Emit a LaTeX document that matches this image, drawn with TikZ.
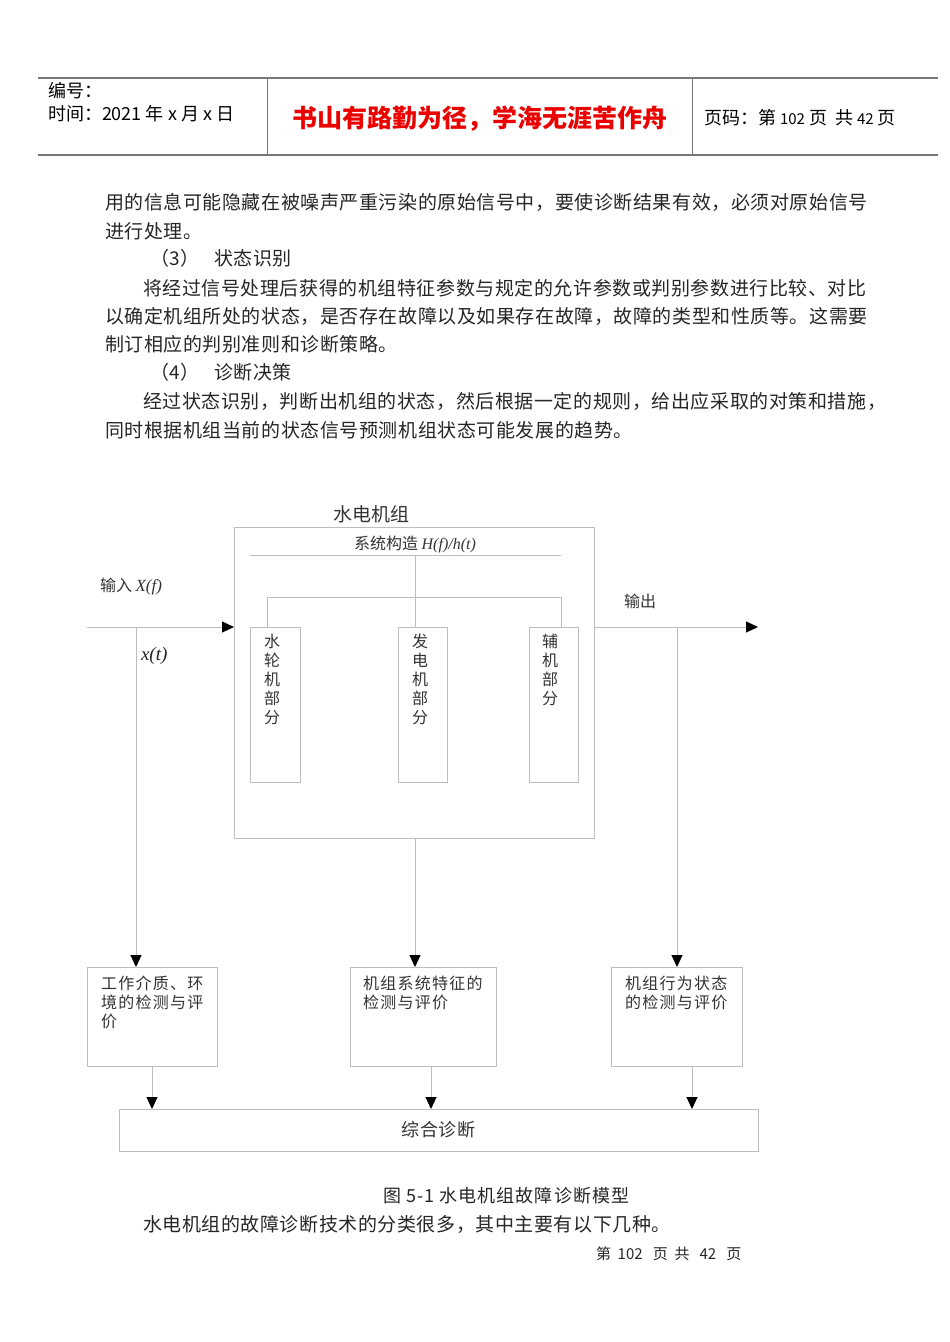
\documentclass[tikz,border=0pt]{standalone}
\usepackage{fontspec}
\setmainfont{Noto Sans CJK SC}
\newfontfamily\lser{Liberation Serif}
\usetikzlibrary{arrows.meta}
\definecolor{lg}{RGB}{190,190,190}
\definecolor{hg}{RGB}{120,120,120}
\definecolor{redt}{RGB}{235,0,0}
\begin{document}
\begin{tikzpicture}[x=1pt,y=-1pt,
 every node/.style={inner sep=0pt, outer sep=0pt},
 ln/.style={draw=lg, line width=1pt},
 box/.style={draw=lg, line width=1pt, minimum width=#1},
 arr/.style={ln, -{Triangle[length=12pt,width=11pt,color=black]}},
 body/.style={anchor=west, font=\fontsize{19}{19}\selectfont\addfontfeature{LetterSpace=3}, text=black!85},
 lbl/.style={anchor=north west, font=\fontsize{16}{19}\selectfont\addfontfeature{LetterSpace=8}, align=left, text=black!80},
 vlbl/.style={anchor=north, font=\fontsize{16}{19}\selectfont, align=center, text=black!80},
 hdr/.style={anchor=west, font=\fontsize{18}{24}\selectfont},
]
\path[use as bounding box, fill=white] (0,0) rectangle (950,1342);

% header
\draw[hg, line width=2pt] (38,78) -- (938,78);
\draw[hg, line width=2pt] (38,155) -- (938,155);
\draw[hg, line width=1pt] (267,78) -- (267,155);
\draw[hg, line width=1pt] (692,78) -- (692,155);
\node[hdr] (h1) at (48,91) {编号：};
\node[hdr] (h2) at (48,114) {时间：2021 年 x 月 x 日};
\node[font=\fontsize{25}{25}\selectfont\bfseries, text=redt] (h3) at (480,119) {书山有路勤为径，学海无涯苦作舟};
\node[hdr] (h4) at (704,118) {页码：第 {\fontsize{15}{15}\selectfont 102} 页\ \ 共 {\fontsize{15}{15}\selectfont 42} 页};

% body text
\node[body] (t1) at (105,202) {用的信息可能隐藏在被噪声严重污染的原始信号中，要使诊断结果有效，必须对原始信号};
\node[body] (t2) at (105,231) {进行处理。};
\node[body] (t3a) at (150,258) {（3）};
\node[body] (t3b) at (214,258) {状态识别};
\node[body] (t4) at (143,288) {将经过信号处理后获得的机组特征参数与规定的允许参数或判别参数进行比较、对比};
\node[body] (t5) at (105,316) {以确定机组所处的状态，是否存在故障以及如果存在故障，故障的类型和性质等。这需要};
\node[body] (t6) at (105,344) {制订相应的判别准则和诊断策略。};
\node[body] (t7a) at (150,372) {（4）};
\node[body] (t7b) at (214,372) {诊断决策};
\node[body] (t8) at (143,401) {经过状态识别，判断出机组的状态，然后根据一定的规则，给出应采取的对策和措施，};
\node[body] (t9) at (105,430) {同时根据机组当前的状态信号预测机组状态可能发展的趋势。};

% diagram boxes
\node[box=360pt, minimum height=311pt] (sys) at (414,682.5) {};
\node[box=50pt, minimum height=155pt] (tb) at (275,704.5) {};
\node[box=49pt, minimum height=155pt] (gen) at (422.5,704.5) {};
\node[box=49pt, minimum height=155pt] (aux) at (553.5,704.5) {};
\node[box=130pt, minimum height=99pt] (env) at (152,1016.5) {};
\node[box=146pt, minimum height=99pt] (feat) at (423,1016.5) {};
\node[box=131pt, minimum height=99pt] (beh) at (676.5,1016.5) {};
\node[box=639pt, minimum height=42pt, font=\fontsize{18}{18}\selectfont\addfontfeature{LetterSpace=5}, text=black!80] (comb) at (438.5,1130) {综合诊断};

% labels
\node[font=\fontsize{19}{19}\selectfont, text=black!80] (title) at (371,514) {水电机组};
\node[font=\fontsize{16}{16}\selectfont, text=black!80] (struct) at (415,544) {系统构造 {\lser\itshape\fontsize{16}{16}\selectfont H(f)/h(t)}};
\node[vlbl] (tbt) at (272,634) {水\\轮\\机\\部\\分};
\node[vlbl] (gent) at (420,634) {发\\电\\机\\部\\分};
\node[vlbl] (auxt) at (550,634) {辅\\机\\部\\分};
\node[anchor=west, font=\fontsize{16}{16}\selectfont, text=black!80] (inl) at (100,587) {输入 {\lser\itshape\fontsize{17}{17}\selectfont X(f)}};
\node[anchor=west, font=\lser\itshape\fontsize{19}{19}\selectfont, text=black!85] (xt) at (141,656) {x(t)};
\node[anchor=west, font=\fontsize{16}{16}\selectfont, text=black!80] (outl) at (624,601) {输出};
\node[lbl] (envt) at (101,976) {工作介质、环\\境的检测与评\\价};
\node[lbl] (featt) at (363,976) {机组系统特征的\\检测与评价};
\node[lbl] (beht) at (625,976) {机组行为状态\\的检测与评价};

% structure lines
\coordinate (hl) at (250,555);
\coordinate (hr) at (561,555);
\coordinate (hm) at (415,555);
\coordinate (bus) at (415,597);
\coordinate (bl) at (267,597);
\coordinate (br) at (561,597);
\draw[ln] (hl) -- (hr);
\draw[ln] (hm) -- (bus);
\draw[ln] (bl) -- (br);
\draw[ln] (bl) -- (bl |- tb.north);
\draw[ln] (bus) -- (bus |- gen.north);
\draw[ln] (br) -- (br |- aux.north);

% signal connectors
\coordinate (in) at (87,627);
\coordinate (tap) at (136,627);
\coordinate (outend) at (758,627);
\coordinate (otap) at (677,627);
\coordinate (mt) at (415,0);
\coordinate (c1) at (152,0);
\coordinate (c2) at (431,0);
\coordinate (c3) at (692,0);
\draw[arr] (in) -- (in -| sys.west);
\draw[arr] (tap) -- (tap |- env.north);
\draw[arr] (outend -| sys.east) -- (outend);
\draw[arr] (otap) -- (otap |- beh.north);
\draw[arr] (mt |- sys.south) -- (mt |- feat.north);
\draw[arr] (c1 |- env.south) -- (c1 |- comb.north);
\draw[arr] (c2 |- feat.south) -- (c2 |- comb.north);
\draw[arr] (c3 |- beh.south) -- (c3 |- comb.north);

% caption and following text
\node[anchor=west, font=\fontsize{18}{18}\selectfont\addfontfeature{LetterSpace=6}, text=black!85] (cap) at (383,1196) {图 5-1 水电机组故障诊断模型};
\node[body] (t10) at (143,1224) {水电机组的故障诊断技术的分类很多，其中主要有以下几种。};
\node[anchor=west, font=\fontsize{15}{15}\selectfont, text=black!85] (foot) at (596,1254) {第\ \ 102\ \ \ 页\ \ 共\ \ \ 42\ \ \ 页};
\end{tikzpicture}
\end{document}
